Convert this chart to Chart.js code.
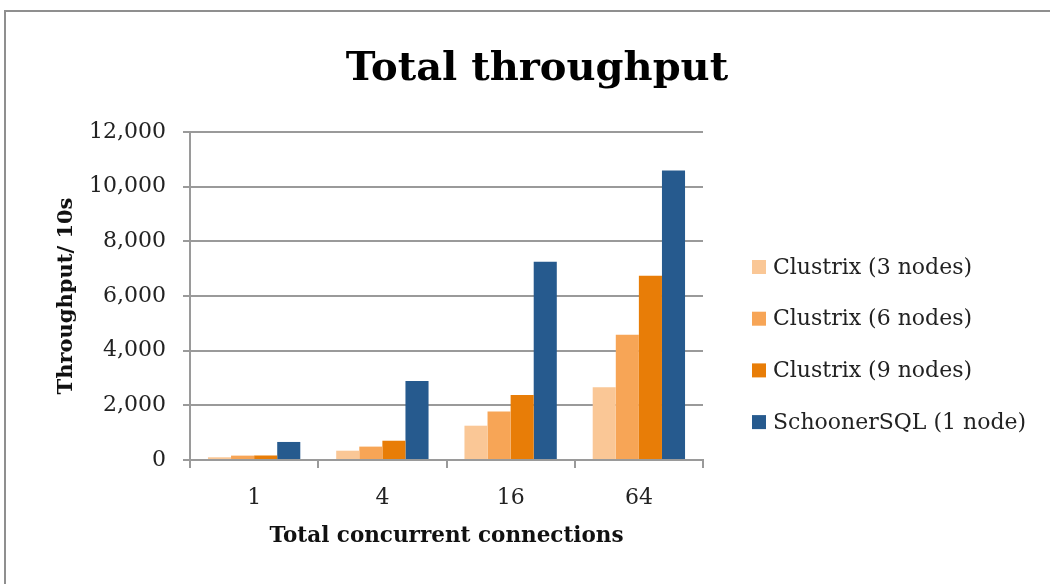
<!DOCTYPE html>
<html>
<head>
<meta charset="utf-8">
<script src="https://cdn.jsdelivr.net/npm/chart.js@4"></script>
<style>
  body { margin: 0; background: #fff; }
  #wrap { position: relative; width: 1050px; height: 584px; overflow: hidden; }
  #frame { position: absolute; left: 4px; top: 10px; width: 1100px; height: 700px;
           border-top: 2px solid #8f8f8f; border-left: 2px solid #8f8f8f; }
  #chart { position: absolute; left: 0; top: 0; }
</style>
</head>
<body>
<div id="wrap">
  <div id="frame"></div>
  <canvas id="chart" width="1050" height="584"></canvas>
</div>
<script>
// categories and series
const connections = ['1', '4', '16', '64'];
const seriesNames = ['Clustrix (3 nodes)', 'Clustrix (6 nodes)', 'Clustrix (9 nodes)', 'SchoonerSQL (1 node)'];
const clustrix3  = [100, 340, 1255, 2660];
const clustrix6  = [160, 490, 1770, 4585];
const clustrix9  = [165, 705, 2380, 6745];
const schooner   = [660, 2890, 7255, 10590];
const seriesColors = ['#fac796', '#f7a556', '#e87d07', '#265a8e'];

const yTicks = { max: 12000, step: 2000 };

const serif = 'DejaVu Serif';
const gridGray = '#9a9a9a';

const datasets = [clustrix3, clustrix6, clustrix9, schooner].map((vals, i) => ({
  label: seriesNames[i],
  data: vals,
  backgroundColor: seriesColors[i],
  borderWidth: 0,
  yAxisID: 'y'
}));

// the built-in right legend is capped at a quarter of the width, so draw it here
const sideLegend = {
  id: 'sideLegend',
  afterDraw(chart) {
    const { ctx, chartArea } = chart;
    const x = chartArea.right + 49;
    const y0 = chartArea.top + 136;
    const step = 51.7;
    ctx.save();
    ctx.font = `22px "${serif}"`;
    ctx.textBaseline = 'middle';
    ctx.textAlign = 'left';
    chart.data.datasets.forEach((ds, i) => {
      const y = y0 + i * step;
      ctx.fillStyle = ds.backgroundColor;
      ctx.fillRect(x, y - 8, 14, 14);
      ctx.fillStyle = '#222';
      ctx.fillText(ds.label, x + 21, y);
    });
    ctx.restore();
  }
};

new Chart(document.getElementById('chart').getContext('2d'), {
  type: 'bar',
  data: { labels: connections, datasets },
  plugins: [sideLegend],
  options: {
    responsive: false,
    animation: false,
    layout: { padding: { left: 54, right: 30, bottom: 35, top: 0 } },
    datasets: { bar: { categoryPercentage: 0.72, barPercentage: 1.0 } },
    plugins: {
      title: {
        display: true,
        text: 'Total throughput',
        color: '#000',
        font: { family: serif, size: 40, weight: 'bold' },
        padding: { top: 46, bottom: 38 }
      },
      legend: { display: false },
      tooltip: { enabled: false }
    },
    scales: {
      x: {
        afterFit: s => { s.height = 89; },
        grid: { drawOnChartArea: false, color: gridGray, lineWidth: 2, tickLength: 8, offset: true },
        border: { color: gridGray, width: 2 },
        ticks: { color: '#222', font: { family: serif, size: 22 }, padding: 17 },
        title: {
          display: true,
          text: 'Total concurrent connections',
          color: '#111',
          font: { family: serif, size: 21.5, weight: 'bold' },
          padding: 0
        }
      },
      y: {
        min: 0,
        max: yTicks.max,
        afterFit: s => { s.width = 136; },
        grid: { color: gridGray, lineWidth: 2, tickLength: 7 },
        border: { color: gridGray, width: 2 },
        ticks: {
          stepSize: yTicks.step,
          color: '#222',
          font: { family: serif, size: 22 },
          padding: 17,
          callback: v => v.toLocaleString('en-US')
        },
        title: {
          display: true,
          text: 'Throughput/ 10s',
          color: '#111',
          font: { family: serif, size: 21, weight: 'bold' },
          padding: 0
        }
      },
      // empty right-hand box that keeps room for the legend
      legendRoom: {
        position: 'right',
        afterFit: s => { s.width = 317; },
        grid: { display: false, drawTicks: false },
        border: { display: false },
        ticks: { display: false }
      }
    }
  }
});
</script>
</body>
</html>
